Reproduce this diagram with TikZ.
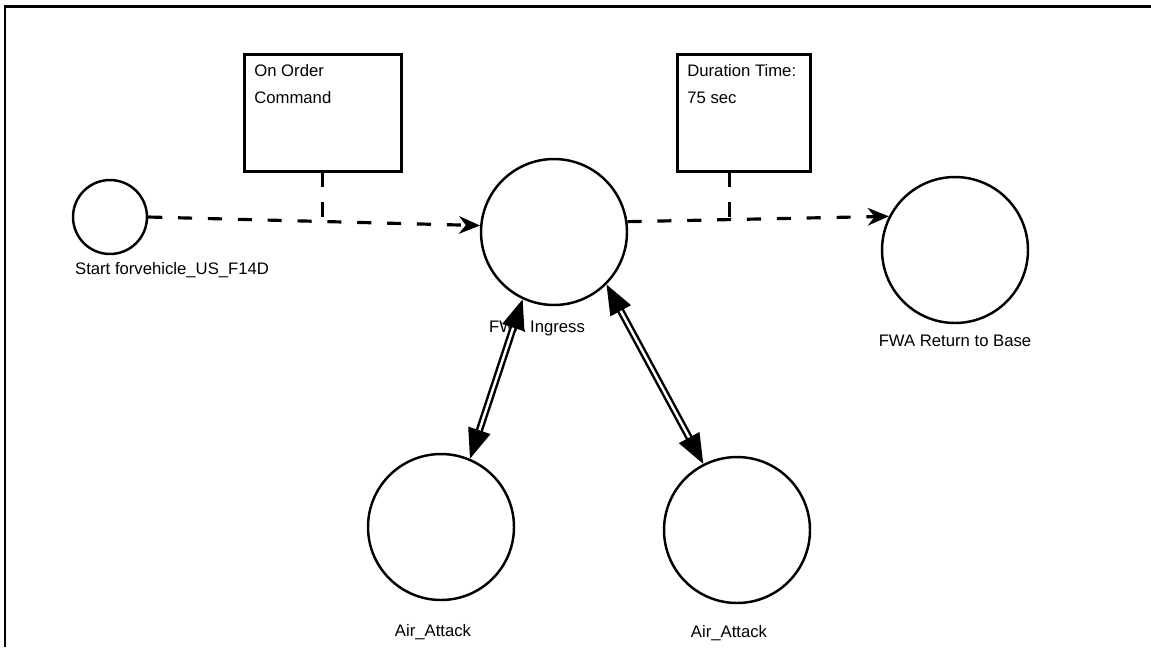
\documentclass[tikz,border=0pt]{standalone}
\usepackage{fontspec}
\setmainfont{Liberation Sans}
\usetikzlibrary{arrows.meta, positioning}
\newcommand{\boxtext}[2]{\parbox[t][1.94cm][t]{#1}{#2}}

\begin{document}
\begin{tikzpicture}[x=0.02cm, y=-0.02cm, font=\fontsize{9.5}{15.3}\selectfont,
    state/.style={draw, circle, line width=1.4pt, inner sep=0pt, minimum size=2.92cm},
    cmdbox/.style={draw, line width=1.5pt, inner sep=0.2cm, anchor=north west},
    lbl/.style={inner sep=0pt},
    flowline/.style={line width=1.8pt, dash pattern=on 8pt off 9pt},
    flow/.style={flowline, -{Stealth[length=12pt, width=10pt]}},
    link/.style={double, line width=1.4pt, double distance=1.4pt,
        {Triangle[length=17pt, width=13pt]}-{Triangle[length=17pt, width=13pt]}}]
    \useasboundingbox (0,0) rectangle (1151,647);
    \draw[line width=1.7pt] (1151,6) -- (5,6) -- (5,647);

    % states
    \node[state, minimum size=1.48cm] (start) at (110,217) {};
    \node[lbl, anchor=north west] (startlbl) at ([yshift=-4pt, xshift=0.06cm]start.west |- start.south) {Start forvehicle\_US\_F14D};
    \node[state] (ingress) at (554,232) {};
    \node[lbl, below=8pt of ingress, xshift=-0.34cm] (ingresslbl) {FWA Ingress};
    \node[state] (return) at (955,250) {};
    \node[lbl, below=6pt of return] (returnlbl) {FWA Return to Base};
    \node[state] (attackl) at (441,527) {};
    \node[lbl, below=13pt of attackl, xshift=-0.16cm] (attackllbl) {Air\_Attack};
    \node[state] (attackr) at (737,530) {};
    \node[lbl, below=12pt of attackr, xshift=-0.16cm] (attackrlbl) {Air\_Attack};

    % conditions
    \node[cmdbox] (order) at (243,53) {\boxtext{2.74cm}{On Order\\Command}};
    \node[cmdbox] (duration) at (676,53) {\boxtext{2.26cm}{Duration Time:\\75 sec}};

    % transitions
    \draw[flow] (start.east) -- coordinate[pos=0.53] (j1) (ingress.175);
    \draw[flow] (ingress.8) -- coordinate[pos=0.38] (j2) (return.153);
    \draw[flowline] (order.south) -- (order.south |- j1);
    \draw[flowline] ([xshift=-0.28cm]duration.south) -- ([xshift=-0.28cm]duration.south |- j2);
    \draw[link] (attackl.67) -- (ingress.245);
    \draw[link] (ingress.315) -- (attackr.117);
\end{tikzpicture}
\end{document}
